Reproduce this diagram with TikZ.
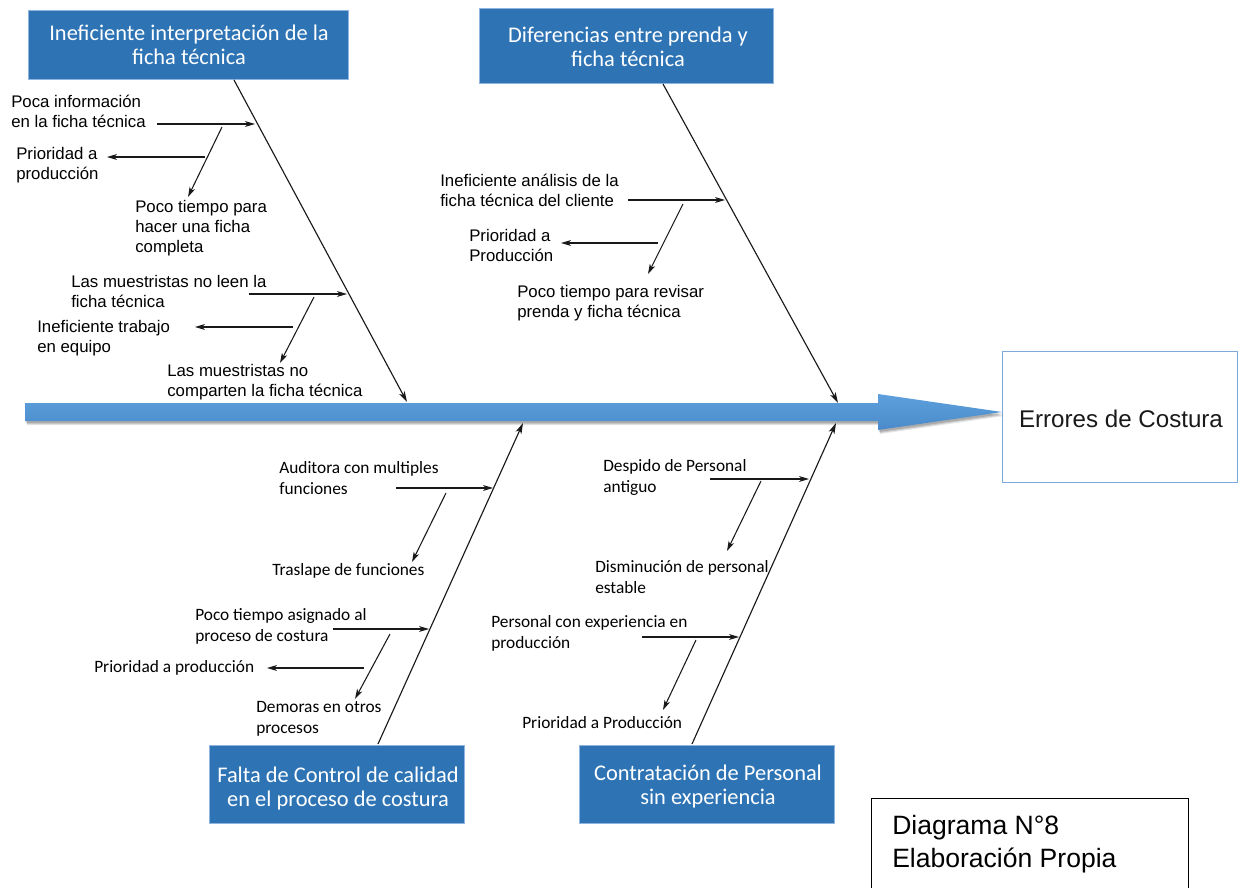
\documentclass[tikz,border=0pt]{standalone}
\usepackage{fontspec}
\setmainfont{Liberation Sans}
\newfontfamily\carl{Carlito}
\usetikzlibrary{arrows.meta}
\definecolor{hdr}{HTML}{2E74B5}
\definecolor{hdrb}{HTML}{8FB4DE}
\definecolor{spt}{HTML}{5EA0DD}
\definecolor{spb}{HTML}{4A8ACA}
\definecolor{effb}{HTML}{7EA9DA}
\newcommand\Lt[1]{\vtop{\halign{##\hfil\cr#1\crcr}}}
\newcommand\Ct[1]{\vtop{\halign{\hfil##\hfil\cr#1\crcr}}}
\begin{document}
\begin{tikzpicture}[x=0.75pt,y=-0.75pt,
  hdrbox/.style={draw=hdrb, line width=0.6pt, fill=hdr, inner sep=0, anchor=north west},
  hdrtxt/.style={text=white, font=\carl\fontsize{16.8}{18}\selectfont, inner sep=0, anchor=base},
  cause/.style={font=\fontsize{12.6}{15}\selectfont, inner sep=0, anchor=base west, text=black},
  causeb/.style={font=\carl\fontsize{13}{15.75}\selectfont, inner sep=0, anchor=base west, text=black},
  bone/.style={line width=0.85pt, draw=black!90, -{Stealth[length=8pt,width=4.6pt,inset=2pt]}},
  sub/.style={line width=0.8pt, draw=black!90, -{Stealth[length=7.5pt,width=4.4pt,inset=2pt]}},
]
\useasboundingbox (0,0) rectangle (1240,888);
\clip (0,0) rectangle (1240,888);

% effect box
\node[draw=effb, line width=0.8pt, inner sep=0, anchor=north west,
      minimum width=176.25pt, minimum height=98.25pt] (eff) at (1002,351) {};
\node[font=\fontsize{18.1}{20}\selectfont, inner sep=0, anchor=base, text=black!90] (efft) at (1121,427) {Errores de Costura};

% spine
\foreach \d/\o in {4/0.10,3/0.12,2/0.15}{
  \fill[black,opacity=\o] (25+\d*0.5,403+\d) -- (878+\d*0.5,403+\d) -- (878+\d*0.5,394+\d) -- (1002+\d*0.5,412+\d) -- (878+\d*0.5,430+\d) -- (878+\d*0.5,421+\d) -- (25+\d*0.5,421+\d) -- cycle;
}
\shade[top color=spt, bottom color=spb] (25,403) -- (878,403) -- (878,394) -- (1002,412) -- (878,430) -- (878,421) -- (25,421) -- cycle;

% header boxes
\node[hdrbox, minimum width=240pt, minimum height=51.75pt] (c1) at (28,10) {};
\node[hdrtxt] (c1t) at (189,41) {\Ct{Ineficiente interpretación de la\cr ficha técnica}};
\node[hdrbox, minimum width=220.5pt, minimum height=56.25pt] (c2) at (479,8) {};
\node[hdrtxt] (c2t) at (628,43) {\Ct{Diferencias entre prenda y\cr ficha técnica}};
\node[hdrbox, minimum width=191.25pt, minimum height=58.5pt] (c3) at (209,745) {};
\node[hdrtxt] (c3t) at (338,782) {\Ct{Falta de Control de calidad\cr en el proceso de costura}};
\node[hdrbox, minimum width=191.25pt, minimum height=58.5pt] (c4) at (579,745) {};
\node[hdrtxt] (c4t) at (708,780) {\Ct{Contratación de Personal\cr sin experiencia}};

% main bones
\coordinate (b1a) at (234,80);  \coordinate (b1b) at (407,402);
\coordinate (b2a) at (663,84);  \coordinate (b2b) at (838,403);
\coordinate (b3a) at (378,744); \coordinate (b3b) at (523,423);
\coordinate (b4a) at (692,744); \coordinate (b4b) at (836,423);
\draw[bone] (b1a) -- (b1b);
\draw[bone] (b2a) -- (b2b);
\draw[bone] (b3a) -- (b3b);
\draw[bone] (b4a) -- (b4b);

% top-left causes
\node[cause] (t1) at (11,108) {\Lt{Poca información\cr en la ficha técnica}};
\node[cause] (t2) at (16,160) {\Lt{Prioridad a\cr producción}};
\node[cause] (t3) at (135,213) {\Lt{Poco tiempo para\cr hacer una ficha\cr completa}};
\node[cause] (t4) at (71,287) {\Lt{Las muestristas no leen la\cr ficha técnica}};
\node[cause] (t5) at (37,333) {\Lt{Ineficiente trabajo\cr en equipo}};
\node[cause] (t6) at (167,377) {\Lt{Las muestristas no\cr comparten la ficha técnica}};
\coordinate (a1s) at (157,124); \coordinate (a1e) at (255,124);
\coordinate (a1ss) at (222,127); \coordinate (a1se) at (188,197);
\coordinate (a1ps) at (205,157); \coordinate (a1pe) at (107,157);
\coordinate (a2s) at (249,294); \coordinate (a2e) at (347,294);
\coordinate (a2ss) at (314,297); \coordinate (a2se) at (280,363);
\coordinate (a2ps) at (293,327); \coordinate (a2pe) at (195,327);
\draw[sub] (a1s) -- (a1e);
\draw[sub] (a1ss) -- (a1se);
\draw[sub] (a1ps) -- (a1pe);
\draw[sub] (a2s) -- (a2e);
\draw[sub] (a2ss) -- (a2se);
\draw[sub] (a2ps) -- (a2pe);

% top-right causes
\node[cause] (t7) at (440,187) {\Lt{Ineficiente análisis de la\cr ficha técnica del cliente}};
\node[cause] (t8) at (469,242) {\Lt{Prioridad a\cr Producción}};
\node[cause] (t9) at (517,297) {\Lt{Poco tiempo para revisar\cr prenda y ficha técnica}};
\coordinate (a3s) at (628,200); \coordinate (a3e) at (725,200);
\coordinate (a3ss) at (683,204); \coordinate (a3se) at (648,274);
\coordinate (a3ps) at (658,243); \coordinate (a3pe) at (561,243);
\draw[sub] (a3s) -- (a3e);
\draw[sub] (a3ss) -- (a3se);
\draw[sub] (a3ps) -- (a3pe);

% bottom-left causes
\node[causeb] (t10) at (279,473) {\Lt{Auditora con multiples\cr funciones}};
\node[causeb] (t11) at (272,575) {Traslape de funciones};
\node[causeb] (t12) at (195,620) {\Lt{Poco tiempo asignado al\cr proceso de costura}};
\node[causeb] (t13) at (94,672) {Prioridad a producción};
\node[causeb] (t14) at (256,712) {\Lt{Demoras en otros\cr procesos}};
\coordinate (a4s) at (396,488); \coordinate (a4e) at (493,488);
\coordinate (a4ss) at (446,493); \coordinate (a4se) at (412,562);
\coordinate (a5s) at (333,629); \coordinate (a5e) at (429,629);
\coordinate (a5ss) at (390,634); \coordinate (a5se) at (355,699);
\coordinate (a5ps) at (364,668); \coordinate (a5pe) at (267,668);
\draw[sub] (a4s) -- (a4e);
\draw[sub] (a4ss) -- (a4se);
\draw[sub] (a5s) -- (a5e);
\draw[sub] (a5ss) -- (a5se);
\draw[sub] (a5ps) -- (a5pe);

% bottom-right causes
\node[causeb] (t15) at (603,471) {\Lt{Despido de Personal\cr antiguo}};
\node[causeb] (t16) at (595,572) {\Lt{Disminución de personal\cr estable}};
\node[causeb] (t17) at (491,627) {\Lt{Personal con experiencia en\cr producción}};
\node[causeb] (t18) at (522,728) {Prioridad a Producción};
\coordinate (a6s) at (710,479); \coordinate (a6e) at (809,479);
\coordinate (a6ss) at (761,481); \coordinate (a6se) at (727,551);
\coordinate (a7s) at (642,637); \coordinate (a7e) at (739,637);
\coordinate (a7ss) at (696,640); \coordinate (a7se) at (663,710);
\draw[sub] (a6s) -- (a6e);
\draw[sub] (a6ss) -- (a6se);
\draw[sub] (a7s) -- (a7e);
\draw[sub] (a7ss) -- (a7se);

% caption box
\node[draw=black, line width=1.1pt, inner sep=0, anchor=north west,
      minimum width=237.75pt, minimum height=75pt] (cap) at (871,798) {};
\node[font=\fontsize{19.9}{24.75}\selectfont, inner sep=0, anchor=base west] (capt) at (892,834) {\Lt{Diagrama N°8\cr Elaboración Propia}};
\end{tikzpicture}
\end{document}
